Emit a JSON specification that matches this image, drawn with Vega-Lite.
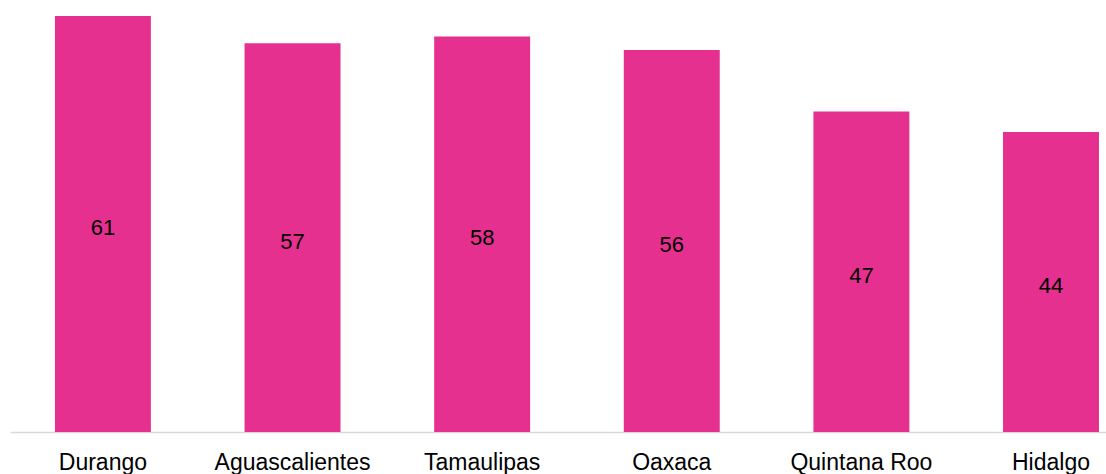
{
  "$schema": "https://vega.github.io/schema/vega-lite/v6.json",
  "width": 1096,
  "height": 432,
  "autosize": {"type": "none"},
  "padding": {"left": 10, "top": 0, "right": 0, "bottom": 42},
  "background": "white",
  "data": {
    "values": [
      {"estado": "Durango", "valor": 61},
      {"estado": "Aguascalientes", "valor": 57},
      {"estado": "Tamaulipas", "valor": 58},
      {"estado": "Oaxaca", "valor": 56},
      {"estado": "Quintana Roo", "valor": 47},
      {"estado": "Hidalgo", "valor": 44}
    ]
  },
  "encoding": {
    "x": {
      "field": "estado",
      "type": "nominal",
      "sort": null,
      "title": null,
      "scale": {"paddingInner": 0.494, "paddingOuter": 0.137, "align": 0.865},
      "axis": {
        "labelAngle": 0,
        "labelFont": "Liberation Sans",
        "labelFontSize": 23,
        "labelColor": "#000000",
        "labelPadding": 19,
        "ticks": false,
        "domainColor": "#d9d9d9",
        "domainWidth": 1.5
      }
    },
    "y": {
      "field": "valor",
      "type": "quantitative",
      "scale": {"domain": [0, 63.34], "nice": false},
      "axis": null
    }
  },
  "layer": [
    {"mark": {"type": "bar", "color": "#e5308f"}},
    {
      "mark": {"type": "text", "font": "Liberation Sans", "fontSize": 22, "color": "#000000", "baseline": "middle", "dy": 4},
      "encoding": {
        "y": {"field": "valor", "type": "quantitative", "aggregate": "sum", "stack": "zero", "bandPosition": 0.5},
        "text": {"field": "valor", "type": "quantitative"}
      }
    }
  ],
  "config": {"view": {"stroke": null}}
}
